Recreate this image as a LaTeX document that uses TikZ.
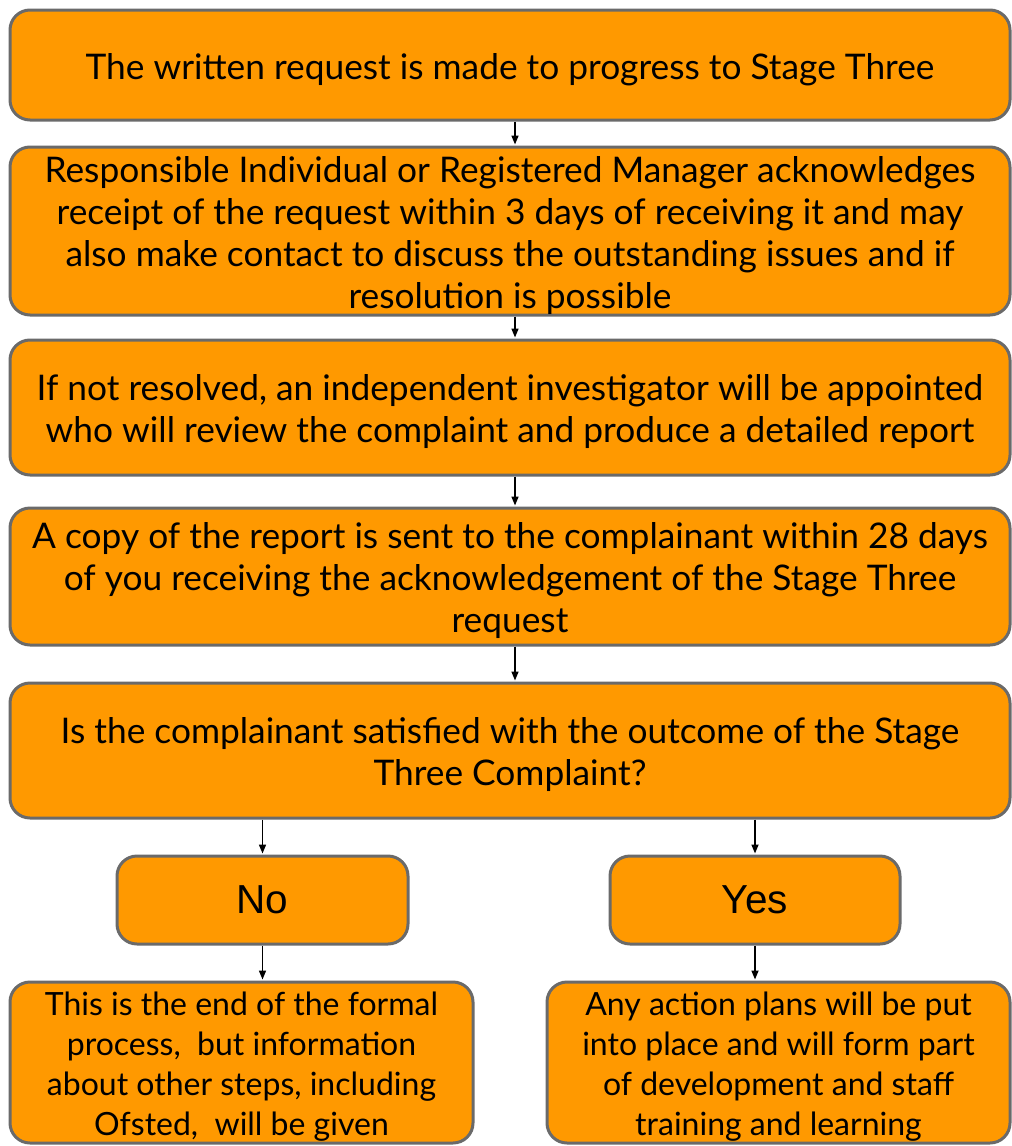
\documentclass[tikz,border=0pt]{standalone}
\usepackage{fontspec}
\setmainfont{Lato}
\newfontfamily\arialfont{Liberation Sans}
\usetikzlibrary{arrows.meta}
\definecolor{boxfill}{HTML}{FF9900}
\definecolor{boxline}{HTML}{6A6A6A}
\begin{document}
\begin{tikzpicture}[x=1pt,y=-1pt,
  flowbox/.style={draw=boxline, fill=boxfill, line width=3pt, rounded corners=20pt,
    align=center, inner sep=0pt},
  txt/.style={align=center, inner sep=0pt, font=\fontsize{35.3}{42}\selectfont},
  smalltxt/.style={align=center, inner sep=0pt, font=\fontsize{32}{40}\selectfont},
  answer/.style={flowbox, font=\arialfont\fontsize{40.5}{44}\selectfont},
  arr/.style={-{Triangle[length=9pt,width=7pt]}, line width=1.6pt, black, shorten >=1pt}]
\useasboundingbox (0,0) rectangle (1012,1146);
% boxes
\node[flowbox, minimum width=1000pt, minimum height=110pt] (b1) at (510,65) {};
\node[flowbox, minimum width=1000pt, minimum height=168pt] (b2) at (510,231) {};
\node[flowbox, minimum width=1000pt, minimum height=135pt] (b3) at (510,407.5) {};
\node[flowbox, minimum width=1000pt, minimum height=137pt] (b4) at (510,576.5) {};
\node[flowbox, minimum width=1000pt, minimum height=135pt] (b5) at (510,750.5) {};
\node[answer, minimum width=291pt, minimum height=88pt] (no) at (262.5,900) {No};
\node[answer, minimum width=290pt, minimum height=88pt] (yes) at (755,900) {Yes};
\node[flowbox, minimum width=463pt, minimum height=161pt] (bl) at (241.5,1062.5) {};
\node[flowbox, minimum width=463pt, minimum height=161pt] (br) at (778.5,1062.5) {};
% texts
\node[txt] (t1) at ([yshift=-4.5pt]b1.center)
  {The written request is made to progress to Stage Three};
\node[txt] (t2) at ([yshift=-4.5pt]b2.center)
  {Responsible Individual or Registered Manager acknowledges\\receipt of the request within 3 days of receiving it and may\\also make contact to discuss the outstanding issues and if\\resolution is possible};
\node[txt] (t3) at ([yshift=-4.5pt]b3.center)
  {If not resolved, an independent investigator will be appointed\\who will review the complaint and produce a detailed report};
\node[txt] (t4) at ([yshift=-4.5pt]b4.center)
  {A copy of the report is sent to the complainant within 28 days\\of you receiving the acknowledgement of the Stage Three\\request};
\node[txt] (t5) at ([yshift=-4.5pt]b5.center)
  {Is the complainant satisfied with the outcome of the Stage\\Three Complaint?};
\node[smalltxt] (tl) at ([yshift=-4pt]bl.center)
  {This is the end of the formal\\process,\ \ but information\\about other steps, including\\Ofsted,\ \ will be given};
\node[smalltxt] (tr) at ([yshift=-4pt]br.center)
  {Any action plans will be put\\into place and will form part\\of development and staff\\training and learning};
% connectors
\draw[arr] ([xshift=5pt]b1.south) -- ([xshift=5pt]b2.north);
\draw[arr] ([xshift=5pt]b2.south) -- ([xshift=5pt]b3.north);
\draw[arr] ([xshift=5pt]b3.south) -- ([xshift=5pt]b4.north);
\draw[arr] ([xshift=5pt]b4.south) -- ([xshift=5pt]b5.north);
\draw[arr] (b5.south -| no.north) -- (no.north);
\draw[arr] (b5.south -| yes.north) -- (yes.north);
\draw[arr] (no.south) -- (no.south |- bl.north);
\draw[arr] (yes.south) -- (yes.south |- br.north);
\end{tikzpicture}
\end{document}
